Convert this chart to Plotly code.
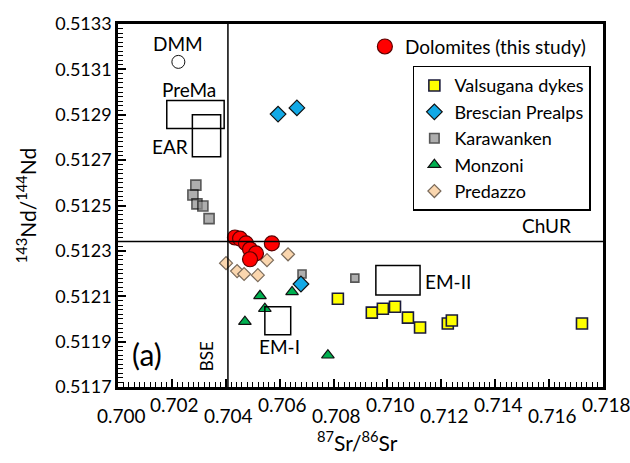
import plotly.graph_objects as go

# ---------------- data ----------------
dolo_x = [0.70434, 0.70453, 0.70475, 0.70490, 0.70512, 0.70490, 0.70571]
dolo_y = [0.512359, 0.512354, 0.512333, 0.512307, 0.512289, 0.512263, 0.512333]

valsugana_x = [0.70816, 0.70942, 0.70983, 0.71028, 0.71076, 0.71121, 0.71224, 0.71239, 0.71722]
valsugana_y = [0.512089, 0.512028, 0.512045, 0.512054, 0.512006, 0.511962, 0.511980, 0.511993, 0.511980]

brescian_x = [0.70594, 0.70664, 0.70679]
brescian_y = [0.512903, 0.512930, 0.512154]

karawanken_x = [0.70289, 0.70278, 0.70293, 0.70315, 0.70338, 0.70683, 0.70879]
karawanken_y = [0.512590, 0.512546, 0.512507, 0.512498, 0.512442, 0.512198, 0.512180]

monzoni_x = [0.70527, 0.70545, 0.70471, 0.70646, 0.70779]
monzoni_y = [0.512102, 0.512045, 0.511988, 0.512119, 0.511840]

predazzo_x = [0.70401, 0.70442, 0.70468, 0.70519, 0.70553, 0.70631]
predazzo_y = [0.512246, 0.512211, 0.512198, 0.512193, 0.512259, 0.512285]

dmm_x = [0.70224]
dmm_y = [0.513133]

# reservoir fields: name, x0, x1, y0, y1
field_names = ["PreMa", "EAR", "EM-I", "EM-II"]
field_x0 = [0.70181, 0.70276, 0.70545, 0.70957]
field_x1 = [0.70394, 0.70381, 0.70641, 0.71121]
field_y0 = [0.512839, 0.512715, 0.511930, 0.512106]
field_y1 = [0.512963, 0.512900, 0.512054, 0.512235]

bse_x = 0.70408
chur_y = 0.512341

x_ticks = [0.700, 0.702, 0.704, 0.706, 0.708, 0.710, 0.712, 0.714, 0.716, 0.718]
x_tick_text = ["0.700", "0.702", "0.704", "0.706", "0.708", "0.710", "0.712", "0.714", "0.716", "0.718"]
y_tick0, y_dtick = 0.5117, 0.0002
x_tick0, x_dtick = 0.700, 0.002

FONT = "Lato"

fig = go.Figure()

fig.add_trace(go.Scatter(x=predazzo_x, y=predazzo_y, mode="markers", name="Predazzo",
                         legendrank=5,
                         marker=dict(symbol="diamond", size=10, color="#FAD6AE",
                                     line=dict(color="#7a6a5a", width=1.2))))
fig.add_trace(go.Scatter(x=monzoni_x, y=monzoni_y, mode="markers", name="Monzoni",
                         legendrank=4,
                         marker=dict(symbol="triangle-up", size=11, color="#00B050",
                                     line=dict(color="#111111", width=1.2))))
fig.add_trace(go.Scatter(x=karawanken_x, y=karawanken_y, mode="markers", name="Karawanken",
                         legendrank=3,
                         marker=dict(symbol="square", size=[10, 10, 10, 10, 10, 8, 8], color="#8c8c8c",
                                     line=dict(color="#111111", width=1.6))))
fig.add_trace(go.Scatter(x=brescian_x, y=brescian_y, mode="markers", name="Brescian Prealps",
                         legendrank=2,
                         marker=dict(symbol="diamond", size=12, color="#12A9E6",
                                     line=dict(color="#111111", width=1.2))))
fig.add_trace(go.Scatter(x=valsugana_x, y=valsugana_y, mode="markers", name="Valsugana dykes",
                         legendrank=1,
                         marker=dict(symbol="square", size=11, color="#FFFF00",
                                     line=dict(color="#1a1a3a", width=1.6))))
fig.add_trace(go.Scatter(x=dmm_x, y=dmm_y, mode="markers", name="DMM", showlegend=False,
                         marker=dict(symbol="circle", size=13, color="white",
                                     line=dict(color="#111111", width=1))))
fig.add_trace(go.Scatter(x=dolo_x, y=dolo_y, mode="markers", name="Dolomites (this study)",
                         legend="legend2",
                         marker=dict(symbol="circle", size=15, color="#FF0000",
                                     line=dict(color="#5a0000", width=1.2))))

shapes = []
for x0, x1, y0, y1 in zip(field_x0, field_x1, field_y0, field_y1):
    shapes.append(dict(type="rect", xref="x", yref="y", x0=x0, x1=x1, y0=y0, y1=y1,
                       line=dict(color="black", width=1.5), fillcolor="rgba(0,0,0,0)"))
shapes.append(dict(type="line", xref="x", yref="paper", x0=bse_x, x1=bse_x, y0=0, y1=1,
                   line=dict(color="black", width=1.5)))
shapes.append(dict(type="line", xref="paper", yref="y", x0=0, x1=1, y0=chur_y, y1=chur_y,
                   line=dict(color="black", width=1.5)))

ann = []
# staggered x tick labels
for i, (v, t) in enumerate(zip(x_ticks, x_tick_text)):
    ann.append(dict(x=v, y=(-0.010 if i % 2 else -0.040), xref="x", yref="paper", text=t,
                    showarrow=False, xanchor="center", yanchor="top", xshift=3,
                    font=dict(family=FONT, size=19, color="black")))
lab_font = dict(family=FONT, size=19, color="black")
ann += [
    dict(x=dmm_x[0], y=0.513215, xref="x", yref="y", text="DMM", showarrow=False, font=lab_font),
    dict(x=0.70265, y=0.513010, xref="x", yref="y", text="PreMa", showarrow=False, font=lab_font),
    dict(x=0.70192, y=0.512760, xref="x", yref="y", text="EAR", showarrow=False, font=lab_font),
    dict(x=0.70598, y=0.511880, xref="x", yref="y", text="EM-I", showarrow=False, font=lab_font),
    dict(x=0.71133, y=0.512165, xref="x", yref="y", text="EM-II", showarrow=False, font=lab_font,
         xanchor="left"),
    dict(x=0.71592, y=0.512410, xref="x", yref="y", text="ChUR", showarrow=False, font=lab_font),
    dict(x=0.70327, y=0.511836, xref="x", yref="y", text="BSE", showarrow=False, textangle=-90,
         font=dict(family=FONT, size=17, color="black")),
    dict(x=0.70108, y=0.511847, xref="x", yref="y", text="(a)", showarrow=False,
         font=dict(family=FONT, size=30, color="black")),
    dict(x=0.5, y=-0.105, xref="paper", yref="paper", text="<sup>87</sup>Sr/<sup>86</sup>Sr",
         showarrow=False, yanchor="top", xshift=-3,
         font=dict(family=FONT, size=21, color="black")),
    dict(x=-0.19, y=0.5, xref="paper", yref="paper", text="<sup>143</sup>Nd/<sup>144</sup>Nd",
         showarrow=False, textangle=-90, xanchor="center",
         font=dict(family=FONT, size=21, color="black")),
]

fig.update_layout(
    width=630, height=463,
    margin=dict(l=118, r=27, t=20, b=76),
    paper_bgcolor="white", plot_bgcolor="white",
    font=dict(family=FONT, color="black"),
    shapes=shapes,
    annotations=ann,
    xaxis=dict(range=[0.700, 0.718], tickmode="linear", tick0=x_tick0, dtick=x_dtick,
               showticklabels=False, showline=True, linecolor="black", linewidth=2.5, mirror=True,
               ticks="inside", ticklen=8, tickwidth=1.5, tickcolor="black",
               showgrid=False, zeroline=False,
               minor=dict(ticks="inside", ticklen=5, tickwidth=1.3, dtick=x_dtick / 10,
                          tickcolor="black")),
    yaxis=dict(range=[0.5117, 0.5133], tickmode="linear", tick0=y_tick0, dtick=y_dtick,
               tickformat=".4f", tickfont=dict(family=FONT, size=18, color="black"),
               showline=True, linecolor="black", linewidth=2.5, mirror=True,
               ticks="inside", ticklen=8, tickwidth=1.5, tickcolor="black",
               showgrid=False, zeroline=False,
               minor=dict(ticks="inside", ticklen=5, tickwidth=1.3, dtick=y_dtick / 10,
                          tickcolor="black")),
    legend=dict(x=0.975, xanchor="right", y=0.885, yanchor="top",
                bordercolor="black", borderwidth=1.5, bgcolor="white",
                font=dict(family=FONT, size=18, color="black"),
                tracegroupgap=0, itemwidth=30),
    legend2=dict(x=0.975, xanchor="right", y=0.99, yanchor="top",
                 borderwidth=0, bgcolor="rgba(0,0,0,0)",
                 font=dict(family=FONT, size=19, color="black"), itemwidth=30),
)

fig.write_html("out.html")
